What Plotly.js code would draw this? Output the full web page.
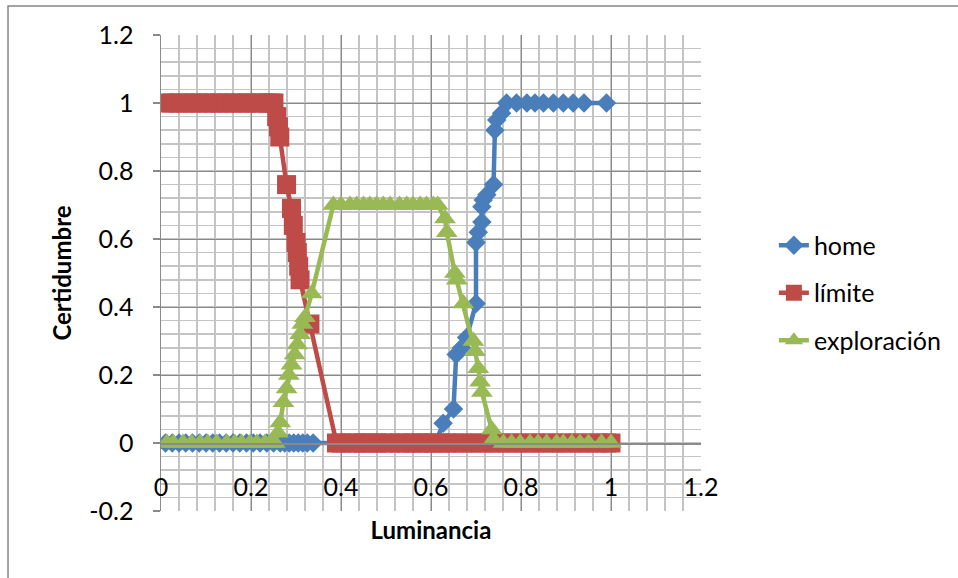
<!DOCTYPE html>
<html><head><meta charset="utf-8">
<script src="https://cdn.plot.ly/plotly-3.0.1.min.js"></script>
<style>html,body{margin:0;padding:0;background:#fff}#chart{width:958px;height:578px}</style>
</head><body><div id="chart"></div><script>
// home (blue)
const homeX = [0.01,0.025,0.04,0.055,0.07,0.085,0.1,0.115,0.13,0.145,0.16,0.175,0.19,0.205,0.22,0.235,0.25,0.265,0.275,0.285,0.295,0.305,0.315,0.325,0.338,
  0.39,0.41,0.43,0.45,0.47,0.49,0.51,0.53,0.55,0.57,0.59,0.61,
  0.627,0.65,0.656,0.668,0.679,0.70,0.70,0.705,0.713,0.713,0.716,0.724,0.739,0.742,0.746,0.757,0.768,
  0.79,0.813,0.831,0.85,0.872,0.894,0.916,0.94,0.99];
const homeY = [0,0,0,0,0,0,0,0,0,0,0,0,0,0,0,0,0,0,0,0,0,0,0,0,0,
  0,0,0,0,0,0,0,0,0,0,0,0,
  0.058,0.10,0.26,0.28,0.31,0.41,0.59,0.62,0.65,0.695,0.715,0.73,0.76,0.92,0.95,0.97,1.0,
  1,1,1,1,1,1,1,1,1];
// límite (red)
const limiteX = [0.01,0.025,0.04,0.055,0.07,0.085,0.1,0.115,0.13,0.145,0.16,0.175,0.19,0.205,0.22,0.235,0.245,0.251,
  0.257,0.261,0.264,0.279,0.29,0.294,0.30,0.303,0.306,0.309,0.331,
  0.39,0.40,0.42,0.435,0.45,0.464,0.479,0.494,0.509,0.53,0.546,0.56,0.576,0.59,0.605,0.62,0.635,0.65,0.67,0.69,0.71,0.73,0.75,0.77,0.79,0.81,0.83,0.85,0.87,0.89,0.91,0.93,0.95,0.97,0.99,1.0];
const limiteY = [1,1,1,1,1,1,1,1,1,1,1,1,1,1,1,1,1,1,
  0.96,0.93,0.90,0.76,0.69,0.64,0.59,0.56,0.52,0.48,0.35,
  0,0,0,0,0,0,0,0,0,0,0,0,0,0,0,0,0,0,0,0,0,0,0,0,0,0,0,0,0,0,0,0,0,0,0,0];
// exploración (green)
const exploracionX = [0.013,0.027,0.049,0.068,0.087,0.104,0.124,0.146,0.164,0.179,0.198,0.213,0.231,0.245,0.253,
  0.26,0.265,0.272,0.279,0.284,0.29,0.297,0.303,0.309,0.314,0.32,0.335,
  0.383,0.40,0.42,0.435,0.45,0.464,0.479,0.494,0.509,0.53,0.546,0.56,0.576,0.59,0.605,0.615,
  0.631,0.635,0.653,0.657,0.672,0.694,0.698,0.705,0.709,0.713,0.735,0.739,
  0.761,0.779,0.798,0.82,0.838,0.857,0.879,0.894,0.913,0.931,0.95,0.979,1.0];
const exploracionY = [0,0,0,0,0,0,0,0,0,0,0,0,0,0,0,
  0.03,0.06,0.12,0.16,0.20,0.23,0.26,0.29,0.32,0.35,0.37,0.44,
  0.70,0.70,0.70,0.70,0.70,0.70,0.70,0.70,0.70,0.70,0.70,0.70,0.70,0.70,0.70,0.70,
  0.66,0.62,0.50,0.48,0.41,0.30,0.27,0.22,0.18,0.15,0.04,0.01,
  0,0,0,0,0,0,0,0,0,0,0,0,0];
const seriesNames = ["home","límite","exploración"];
const xTickVals = [0,0.2,0.4,0.6,0.8,1,1.2];
const xTickText = ["0","0.2","0.4","0.6","0.8","1","1.2"];
const yTickVals = [-0.2,0,0.2,0.4,0.6,0.8,1,1.2];
const yTickText = ["-0.2","0","0.2","0.4","0.6","0.8","1","1.2"];

const FONT = "Lato, 'Open Sans', sans-serif";
const traces = [
  {x: homeX, y: homeY, name: seriesNames[0], legendgroup:"a", type:"scatter", mode:"lines+markers",
   line:{color:"#4a7ebb", width:4.5}, marker:{symbol:"diamond", size:15, color:"#4a7ebb", line:{width:0}}},
  {x: limiteX, y: limiteY, name: seriesNames[1], legendgroup:"b", type:"scatter", mode:"lines+markers",
   line:{color:"#be4b48", width:4.5}, marker:{symbol:"square", size:19, color:"#be4b48", line:{width:0}}},
  {x: exploracionX, y: exploracionY, name: seriesNames[2], legendgroup:"c", type:"scatter", mode:"lines+markers",
   line:{color:"#98b954", width:4.5}, marker:{symbol:"triangle-up", size:19, color:"#98b954", line:{width:0}}}
];
const layout = {
  width:958, height:578,
  margin:{l:161, r:257, t:35, b:67},
  paper_bgcolor:"#fff", plot_bgcolor:"#fff",
  font:{family:FONT, size:25, color:"#000"},
  showlegend:true,
  legend:{x:1.135, xanchor:"left", y:0.458, yanchor:"middle", tracegroupgap:12,
    font:{family:FONT, size:25, color:"#000"}, bgcolor:"rgba(0,0,0,0)"},
  xaxis:{range:[0,1.2], tickmode:"array", tickvals:xTickVals, ticktext:xTickText,
    showgrid:true, gridcolor:"#8a8a8a", gridwidth:1,
    minor:{tickmode:"linear", tick0:0, dtick:0.04, showgrid:true, gridcolor:"#c4c4c4", gridwidth:1.5},
    zeroline:false, showline:true, linecolor:"#8a8a8a", linewidth:1.5,
    anchor:"free", position:0.2/1.4, ticks:"", ticklabelstandoff:21,
    title:{text:"<b>Luminancia</b>", font:{family:FONT, size:24}, standoff:22},
    fixedrange:true},
  yaxis:{range:[-0.2,1.2], tickmode:"array", tickvals:yTickVals, ticktext:yTickText,
    showgrid:true, gridcolor:"#8a8a8a", gridwidth:1,
    minor:{tickmode:"linear", tick0:0, dtick:0.04, showgrid:true, gridcolor:"#c4c4c4", gridwidth:1.5},
    zeroline:false, showline:true, linecolor:"#8a8a8a", linewidth:1.5,
    ticks:"outside", ticklen:7, tickcolor:"#8a8a8a", tickwidth:1.5, ticklabelstandoff:14,
    title:{text:"<b>Certidumbre</b>", font:{family:FONT, size:24}, standoff:11},
    fixedrange:true},
  shapes:[{type:"rect", xref:"paper", yref:"paper", x0:-0.2833, x1:1.49, y0:-0.16, y1:1.0609,
    line:{color:"#868686", width:1.5}, fillcolor:"rgba(0,0,0,0)", layer:"below"}]
};
Plotly.newPlot("chart", traces, layout, {displayModeBar:false, staticPlot:true});
</script></body></html>
